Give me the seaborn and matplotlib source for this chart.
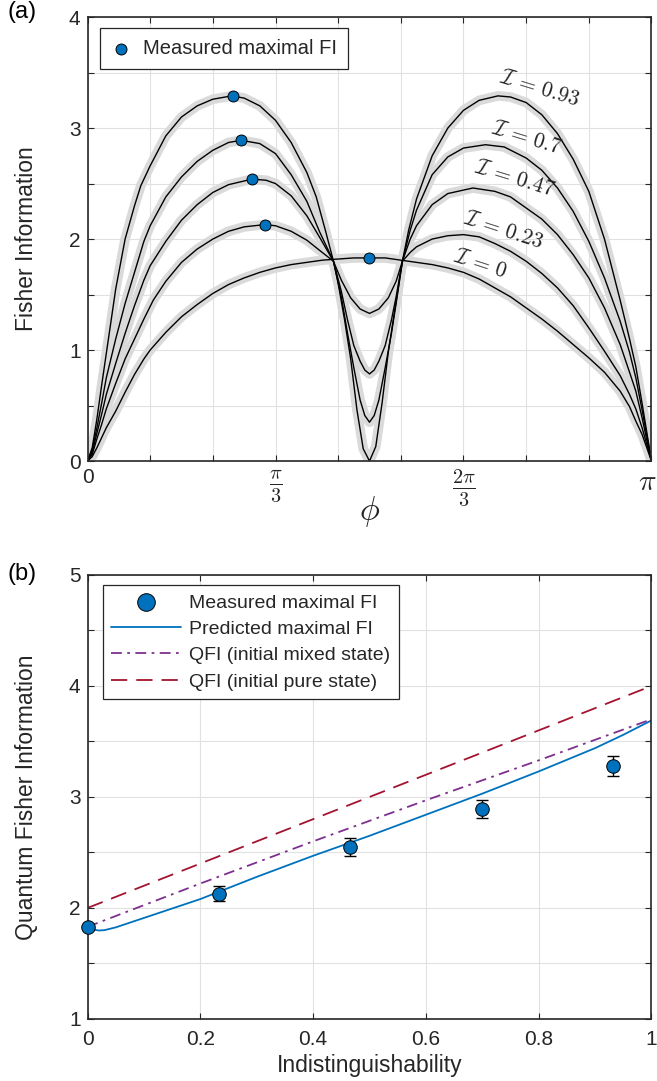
"""
Fisher information versus phase (a) and maximal FI versus indistinguishability (b)
"""
import matplotlib
matplotlib.use("Agg")

import pandas as pd
import matplotlib.pyplot as plt
import seaborn as sns
from matplotlib.ticker import FixedLocator, MultipleLocator
from matplotlib.transforms import ScaledTranslation

# ---------------- panel (a): FI curves, phase in degrees ----------------
PHI_I093 = [0, 1.5, 3, 4.5, 6, 9, 12, 15, 17, 20, 25, 30, 35, 40, 46, 50, 55, 60, 65, 70,
            73, 76, 78.5, 80, 82, 84, 86, 88, 90, 92, 94, 96, 98, 100.5, 102.5, 105, 110, 115,
            120, 125, 131, 135, 140, 145, 150, 155, 160, 165, 170, 173, 175, 177, 178.5, 180]
FI_I093 = [0, 0.12, 0.38, 0.68, 0.97, 1.55, 2.00, 2.30, 2.48, 2.66, 2.93, 3.10, 3.20, 3.26,
           3.29, 3.27, 3.20, 3.07, 2.87, 2.60, 2.38, 2.07, 1.80, 1.60, 1.28, 0.92, 0.46, 0.11,
           0.0, 0.13, 0.52, 0.98, 1.35, 1.80, 2.08, 2.36, 2.75, 3.00, 3.16, 3.25, 3.29, 3.28,
           3.23, 3.12, 2.95, 2.72, 2.43, 2.00, 1.45, 1.10, 0.85, 0.52, 0.26, 0]

PHI_I070 = [0, 1.5, 3, 4.5, 6, 9, 12, 15, 18, 20, 25, 30, 35, 40, 45, 49, 55, 60, 65, 70,
            74, 78.5, 81, 83, 85, 87, 88.5, 90, 91.5, 93, 95, 97, 98.5, 100.5, 103, 105, 110,
            115, 120, 127, 133, 140, 145, 150, 155, 160, 165, 170, 173, 175, 177, 178.5, 180]
FI_I070 = [0, 0.10, 0.30, 0.52, 0.75, 1.10, 1.42, 1.70, 1.98, 2.12, 2.38, 2.56, 2.70, 2.80,
           2.87, 2.89, 2.86, 2.77, 2.58, 2.34, 2.07, 1.80, 1.48, 1.15, 0.84, 0.55, 0.41, 0.35,
           0.41, 0.55, 0.84, 1.15, 1.42, 1.80, 2.08, 2.26, 2.58, 2.74, 2.82, 2.85, 2.83, 2.73,
           2.62, 2.46, 2.25, 1.98, 1.65, 1.26, 0.98, 0.75, 0.46, 0.23, 0]

PHI_I047 = [0, 1.5, 3, 4.5, 6, 9, 12, 15, 18, 20, 25, 30, 35, 40, 45, 52.5, 57, 60, 65, 70,
            74, 78.5, 81, 83, 85, 87, 88.5, 90, 91.5, 93, 95, 97, 98.5, 100.5, 103, 105, 110,
            115, 123, 130, 135, 140, 145, 150, 155, 160, 165, 170, 173, 175, 177, 178.5, 180]
FI_I047 = [0, 0.08, 0.25, 0.42, 0.60, 0.88, 1.15, 1.40, 1.63, 1.76, 1.98, 2.17, 2.31, 2.42,
           2.49, 2.54, 2.53, 2.50, 2.39, 2.21, 2.02, 1.80, 1.53, 1.27, 1.04, 0.90, 0.82, 0.785,
           0.82, 0.90, 1.04, 1.27, 1.48, 1.80, 2.00, 2.12, 2.31, 2.41, 2.46, 2.43, 2.38, 2.28,
           2.18, 2.04, 1.86, 1.65, 1.38, 1.05, 0.80, 0.63, 0.39, 0.19, 0]

PHI_I023 = [0, 1.5, 3, 4.5, 6, 9, 12, 15, 18, 21, 25, 30, 35, 40, 45, 50, 56.5, 60, 65, 70,
            74, 78.5, 81, 84, 87, 90, 93, 96, 98.5, 100.5, 103, 105, 110, 115, 120, 125, 130,
            135, 140, 145, 150, 155, 160, 165, 170, 173, 175, 177, 178.5, 180]
FI_I023 = [0, 0.06, 0.20, 0.33, 0.47, 0.70, 0.92, 1.10, 1.28, 1.45, 1.62, 1.79, 1.91, 2.00,
           2.07, 2.11, 2.13, 2.12, 2.07, 1.99, 1.90, 1.80, 1.63, 1.47, 1.37, 1.33, 1.37, 1.47,
           1.62, 1.80, 1.88, 1.93, 2.00, 2.03, 2.04, 2.02, 1.96, 1.89, 1.80, 1.69, 1.56, 1.40,
           1.20, 0.99, 0.77, 0.60, 0.47, 0.30, 0.15, 0]

PHI_I000 = [0, 1.5, 3, 4.5, 6, 9, 12, 15, 18, 20, 25, 30, 35, 40, 45, 50, 55, 60, 65, 70,
            75, 80, 85, 90, 95, 100, 105, 110, 115, 120, 125, 130, 135, 140, 145, 150, 155,
            160, 165, 170, 173, 175, 177, 178.5, 180]
FI_I000 = [0, 0.04, 0.12, 0.21, 0.30, 0.45, 0.62, 0.78, 0.92, 1.00, 1.16, 1.30, 1.41, 1.51,
           1.59, 1.65, 1.70, 1.74, 1.77, 1.79, 1.81, 1.82, 1.83, 1.83, 1.83, 1.81, 1.79, 1.77,
           1.74, 1.70, 1.64, 1.56, 1.48, 1.38, 1.28, 1.17, 1.05, 0.93, 0.80, 0.63, 0.49, 0.36,
           0.24, 0.12, 0]

CURVE_NAMES = ["0.93", "0.7", "0.47", "0.23", "0"]

PEAK_PHI = [46.5, 48.9, 52.6, 56.6, 90.0]
PEAK_FI = [3.29, 2.89, 2.54, 2.13, 1.83]

# ---------------- panel (b): maximal FI vs indistinguishability ----------------
MEAS_I = [0.0, 0.234, 0.466, 0.699, 0.931]
MEAS_FI = [1.83, 2.13, 2.55, 2.89, 3.28]
MEAS_ERR = [0.0, 0.07, 0.08, 0.08, 0.09]

PRED_I = [0, 0.01, 0.02, 0.03, 0.05, 0.1, 0.2, 0.3, 0.4, 0.5, 0.6, 0.7, 0.8, 0.9, 0.95, 1.0]
PRED_FI = [1.83, 1.805, 1.797, 1.80, 1.825, 1.91, 2.08, 2.28, 2.47, 2.65, 2.84, 3.03, 3.23,
           3.44, 3.56, 3.69]

MIXED_I = [0, 0.2, 0.4, 0.6, 0.8, 1.0]
MIXED_QFI = [1.83, 2.22, 2.60, 2.97, 3.33, 3.70]

PURE_I = [0, 1.0]
PURE_QFI = [2.0, 4.0]

BLUE = "#0072BD"
PURPLE = "#7E2F8E"
RED = "#A2142F"
BAND = "#dadada"
AXIS_COLOR = "#262626"
GRID_COLOR = "#e1e1e1"


def style_axes(ax) -> None:
    """ matlab-like box, inward ticks, grid on minor and major ticks """
    ax.set_axisbelow(True)
    ax.grid(which="both", color=GRID_COLOR, linewidth=0.8)
    ax.tick_params(which="both", direction="in", top=True, right=True, length=4,
                   width=0.8, color=AXIS_COLOR, labelsize=15, labelcolor=AXIS_COLOR, pad=5)
    for spine in ax.spines.values():
        spine.set_visible(True)
        spine.set_color(AXIS_COLOR)
        spine.set_linewidth(1.2)


def plot_phase_panel(ax) -> None:
    """ panel (a): FI against phi for the five indistinguishabilities """
    frames = []
    for name, phi, fi in zip(CURVE_NAMES, [PHI_I093, PHI_I070, PHI_I047, PHI_I023, PHI_I000],
                             [FI_I093, FI_I070, FI_I047, FI_I023, FI_I000]):
        frames.append(pd.DataFrame({"phi": phi, "fi": fi, "curve": name}))
    curves = pd.concat(frames, ignore_index=True)

    sns.lineplot(data=curves, x="phi", y="fi", units="curve", estimator=None, sort=False,
                 color=BAND, linewidth=7, solid_capstyle="butt", solid_joinstyle="round",
                 ax=ax, legend=False)
    sns.lineplot(data=curves, x="phi", y="fi", units="curve", estimator=None, sort=False,
                 color="black", linewidth=1.0, solid_joinstyle="round", ax=ax, legend=False)
    sns.scatterplot(x=PEAK_PHI, y=PEAK_FI, s=62, color=BLUE, edgecolor="black", linewidth=0.7,
                    zorder=5, label="Measured maximal FI", ax=ax)

    label_spots = [(144.4, 3.35, -17), (140.2, 2.91, -17), (136.4, 2.54, -17),
                   (132.7, 2.08, -18), (125.3, 1.77, -18)]
    for name, (x, y, rot) in zip(CURVE_NAMES, label_spots):
        ax.text(x, y, r"$\mathcal{I}\,=\," + name + "$", rotation=rot, rotation_mode="anchor",
                ha="center", va="center", fontsize=15.5)

    ax.set_xlim(0, 180)
    ax.set_ylim(0, 4)
    ax.xaxis.set_major_locator(FixedLocator([0, 60, 120, 180]))
    ax.xaxis.set_minor_locator(MultipleLocator(20))
    ax.yaxis.set_major_locator(MultipleLocator(1))
    ax.yaxis.set_minor_locator(MultipleLocator(0.5))
    style_axes(ax)
    ax.set_xticklabels(["0", r"$\frac{\pi}{3}$", r"$\frac{2\pi}{3}$", r"$\pi$"])
    tick_labels = ax.get_xticklabels()
    for i, tick in enumerate(tick_labels):
        tick.set_fontsize(15 if i == 0 else 21)
    # the last label sits on the right border, nudge it in a little
    tick_labels[-1].set_transform(tick_labels[-1].get_transform()
                                  + ScaledTranslation(-4 / 100, 0, ax.figure.dpi_scale_trans))

    ax.set_xlabel(r"$\phi$", fontsize=24, color=AXIS_COLOR)
    ax.xaxis.set_label_coords(0.5, -0.075)
    ax.set_ylabel("Fisher Information", fontsize=16.5, color=AXIS_COLOR)
    ax.yaxis.set_label_coords(-0.088, 0.5)

    leg = ax.legend(loc="upper left", bbox_to_anchor=(0.022, 0.975), borderaxespad=0,
                    fancybox=False, framealpha=1, edgecolor=AXIS_COLOR, fontsize=14.5,
                    handlelength=1.0, handletextpad=0.6, borderpad=0.55)
    leg.get_frame().set_linewidth(0.9)


def plot_indistinguishability_panel(ax) -> None:
    """ panel (b): measured and predicted maximal FI with the two QFI bounds """
    ax.errorbar(MEAS_I, MEAS_FI, yerr=MEAS_ERR, fmt="none", ecolor="black", elinewidth=1.0,
                capsize=4, capthick=1.0, zorder=4, clip_on=False)
    sns.scatterplot(x=MEAS_I, y=MEAS_FI, s=95, color=BLUE, edgecolor="black", linewidth=0.7,
                    zorder=5, clip_on=False, label="Measured maximal FI", ax=ax)
    sns.lineplot(x=PRED_I, y=PRED_FI, color=BLUE, linewidth=1.3,
                 label="Predicted maximal FI", ax=ax)
    sns.lineplot(x=MIXED_I, y=MIXED_QFI, color=PURPLE, linewidth=1.3,
                 linestyle=(0, (6, 3, 1.5, 3)), label="QFI (initial mixed state)", ax=ax)
    sns.lineplot(x=PURE_I, y=PURE_QFI, color=RED, linewidth=1.3,
                 linestyle=(0, (9, 5)), label="QFI (initial pure state)", ax=ax)

    ax.set_xlim(0, 1)
    ax.set_ylim(1, 5)
    ax.xaxis.set_major_locator(MultipleLocator(0.2))
    ax.yaxis.set_major_locator(MultipleLocator(1))
    ax.yaxis.set_minor_locator(MultipleLocator(0.5))
    style_axes(ax)
    ax.tick_params(axis="x", pad=8)
    ax.set_xticks([0, 0.2, 0.4, 0.6, 0.8, 1.0])
    ax.set_xticklabels(["0", "0.2", "0.4", "0.6", "0.8", "1"])

    ax.set_xlabel("Indistinguishability", fontsize=16.5, color=AXIS_COLOR)
    ax.xaxis.set_label_coords(0.5, -0.079)
    ax.set_ylabel("Quantum Fisher Information", fontsize=16.5, color=AXIS_COLOR)
    ax.yaxis.set_label_coords(-0.088, 0.5)

    handles, labels = ax.get_legend_handles_labels()
    wanted = ["Measured maximal FI", "Predicted maximal FI",
              "QFI (initial mixed state)", "QFI (initial pure state)"]
    order = [labels.index(name) for name in wanted]
    leg = ax.legend([handles[i] for i in order], [labels[i] for i in order],
                    loc="upper left", bbox_to_anchor=(0.027, 0.977), borderaxespad=0,
                    fancybox=False, framealpha=1, edgecolor=AXIS_COLOR, fontsize=14,
                    handlelength=3.6, handletextpad=0.4, labelspacing=0.45,
                    borderpad=0.45, markerscale=1.3)
    leg.get_frame().set_linewidth(0.9)


sns.set_theme(style="ticks")
plt.rcParams["font.family"] = ["Liberation Sans", "DejaVu Sans"]
plt.rcParams["mathtext.fontset"] = "cm"

fig = plt.figure(figsize=(6.57, 10.81), dpi=100)
ax_a = fig.add_axes([0.1332, 0.5735, 0.8584, 0.4107])
ax_b = fig.add_axes([0.1332, 0.0574, 0.8584, 0.4107])

plot_phase_panel(ax_a)
plot_indistinguishability_panel(ax_b)

fig.text(0.012, 0.999, "(a)", fontsize=17, va="top", ha="left", color="black")
fig.text(0.012, 1 - 563 / 1081, "(b)", fontsize=17, va="top", ha="left", color="black")

fig.savefig("out.png", dpi=100)
